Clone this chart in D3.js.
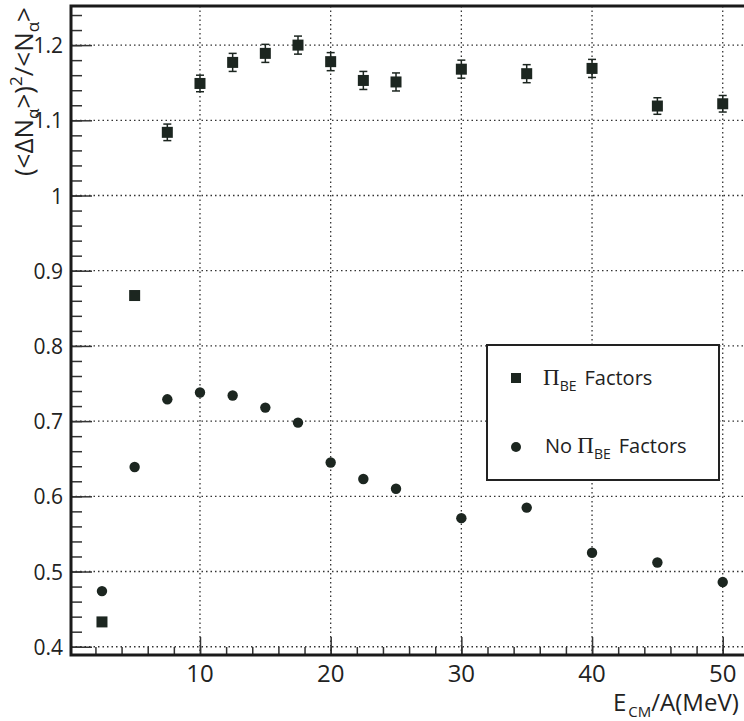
<!DOCTYPE html>
<html>
<head>
<meta charset="utf-8">
<script src="https://cdn.jsdelivr.net/npm/d3@7"></script>
<style>
  body { margin: 0; background: #fff; overflow: hidden; }
  text { font-family: "Open Sans", "DejaVu Sans", sans-serif; fill: #222; }
</style>
</head>
<body>
<div class="chart"></div>
<script>
// data
var energy = [2.5, 5, 7.5, 10, 12.5, 15, 17.5, 20, 22.5, 25, 30, 35, 40, 45, 50];
var withBE = [0.433, 0.867, 1.084, 1.149, 1.177, 1.189, 1.200, 1.178, 1.153, 1.151, 1.168, 1.162, 1.169, 1.119, 1.122];
var withBEerr = [0.003, 0.004, 0.011, 0.011, 0.012, 0.012, 0.012, 0.012, 0.012, 0.012, 0.012, 0.012, 0.012, 0.011, 0.011];
var noBE = [0.474, 0.639, 0.729, 0.738, 0.734, 0.718, 0.698, 0.645, 0.623, 0.610, 0.571, 0.585, 0.525, 0.512, 0.486];
var xTicks = [10, 20, 30, 40, 50];
var yTicks = [0.4, 0.5, 0.6, 0.7, 0.8, 0.9, 1, 1.1, 1.2];

var W = 744, H = 721;
var pLeft = 71, pTop = 6, pBottom = 655, pRight = 775;

var x = d3.scaleLinear().domain([0.13, 54]).range([pLeft, pRight]);
var y = d3.scaleLinear().domain([0.389, 1.252]).range([pBottom, pTop]);

var svg = d3.select(".chart").append("svg")
    .attr("width", W)
    .attr("height", H);

var ink = "#1c2620";

// dotted grid
svg.append("g").selectAll("line")
    .data(yTicks).enter().append("line")
    .attr("x1", pLeft).attr("x2", pRight)
    .attr("y1", function(d){ return y(d); })
    .attr("y2", function(d){ return y(d); })
    .attr("stroke", "#333").attr("stroke-width", 1.3)
    .attr("stroke-dasharray", "1.5,3");

svg.append("g").selectAll("line")
    .data(xTicks).enter().append("line")
    .attr("x1", function(d){ return x(d); })
    .attr("x2", function(d){ return x(d); })
    .attr("y1", pTop).attr("y2", pBottom)
    .attr("stroke", "#333").attr("stroke-width", 1.3)
    .attr("stroke-dasharray", "1.5,3");

// axes, ticks drawn inward
var yAxisMajor = d3.axisRight(y).tickValues(yTicks).tickSize(21).tickFormat("");
var yAxisMinor = d3.axisRight(y).tickValues(d3.range(0.40, 1.2501, 0.02)).tickSize(11).tickFormat("");
var xAxisMajor = d3.axisTop(x).tickValues(xTicks).tickSize(18).tickFormat("");
var xAxisMinor = d3.axisTop(x).tickValues(d3.range(2, 54, 2)).tickSize(8).tickFormat("");

[yAxisMinor, yAxisMajor].forEach(function(a){
  var g = svg.append("g").attr("transform", "translate(" + pLeft + ",0)").call(a);
  g.select(".domain").remove();
  g.selectAll("line").attr("stroke", "#333").attr("stroke-width", 1.5);
});
[xAxisMinor, xAxisMajor].forEach(function(a){
  var g = svg.append("g").attr("transform", "translate(0," + pBottom + ")").call(a);
  g.select(".domain").remove();
  g.selectAll("line").attr("stroke", "#333").attr("stroke-width", 1.5);
});

// frame
svg.append("rect")
    .attr("x", pLeft).attr("y", pTop)
    .attr("width", pRight - pLeft).attr("height", pBottom - pTop)
    .attr("fill", "none").attr("stroke", "#1a1a1a").attr("stroke-width", 3);

// tick labels
svg.append("g").selectAll("text")
    .data(yTicks).enter().append("text")
    .attr("x", 63)
    .attr("y", function(d){ return y(d) + 8; })
    .attr("text-anchor", "end")
    .style("font-size", "21px")
    .text(function(d){ return d3.format("")(d); });

svg.append("g").selectAll("text")
    .data(xTicks).enter().append("text")
    .attr("x", function(d){ return x(d); })
    .attr("y", 682)
    .attr("text-anchor", "middle")
    .style("font-size", "24px")
    .text(function(d){ return d; });

// x axis title
var xt = svg.append("text").attr("x", 613).attr("y", 711).style("font-size", "24px");
xt.append("tspan").text("E");
xt.append("tspan").attr("dx", 2).attr("dy", 6).style("font-size", "15px").text("CM");
xt.append("tspan").attr("dy", -6).text("/A(MeV)");

// y axis title
var yt = svg.append("text")
    .attr("transform", "translate(33,7) rotate(-90)")
    .attr("text-anchor", "end")
    .style("font-size", "26px");
yt.append("tspan").text("(<ΔN");
yt.append("tspan").attr("dy", 6).style("font-size", "17px").text("α");
yt.append("tspan").attr("dy", -6).text(">)");
yt.append("tspan").attr("dy", -11).style("font-size", "17px").text("2");
yt.append("tspan").attr("dy", 11).text("/<N");
yt.append("tspan").attr("dy", 6).style("font-size", "17px").text("α");
yt.append("tspan").attr("dy", -6).text(">");

// series with Pi_BE factors: squares with error bars
var sq = svg.append("g").selectAll("g")
    .data(energy).enter().append("g");
sq.append("line")
    .attr("x1", function(d){ return x(d); })
    .attr("x2", function(d){ return x(d); })
    .attr("y1", function(d, i){ return y(withBE[i] - withBEerr[i]); })
    .attr("y2", function(d, i){ return y(withBE[i] + withBEerr[i]); })
    .attr("stroke", ink).attr("stroke-width", 1.5);
[-1, 1].forEach(function(s){
  sq.append("line")
      .attr("x1", function(d){ return x(d) - 4; })
      .attr("x2", function(d){ return x(d) + 4; })
      .attr("y1", function(d, i){ return y(withBE[i] + s * withBEerr[i]); })
      .attr("y2", function(d, i){ return y(withBE[i] + s * withBEerr[i]); })
      .attr("stroke", ink).attr("stroke-width", 1.5);
});
sq.append("rect")
    .attr("x", function(d){ return x(d) - 5.5; })
    .attr("y", function(d, i){ return y(withBE[i]) - 5.5; })
    .attr("width", 11).attr("height", 11)
    .attr("fill", ink);

// series without Pi_BE factors: circles
svg.append("g").selectAll("circle")
    .data(energy).enter().append("circle")
    .attr("cx", function(d){ return x(d); })
    .attr("cy", function(d, i){ return y(noBE[i]); })
    .attr("r", 5.2)
    .attr("fill", ink);

// legend
var lg = svg.append("g");
lg.append("rect")
    .attr("x", 487).attr("y", 345).attr("width", 232).attr("height", 135)
    .attr("fill", "#fff").attr("stroke", "#222").attr("stroke-width", 2);
lg.append("rect").attr("x", 511).attr("y", 373).attr("width", 10).attr("height", 10).attr("fill", ink);
lg.append("circle").attr("cx", 516).attr("cy", 447).attr("r", 5).attr("fill", ink);

function piLabel(xp, yp, prefix) {
  var t = lg.append("text").attr("x", xp).attr("y", yp).style("font-size", "20px");
  if (prefix) t.append("tspan").text(prefix);
  t.append("tspan").style("font-family", "'Liberation Serif', serif").style("font-size", "23px").text("Π");
  t.append("tspan").attr("dy", 6).style("font-size", "14px").text("BE");
  t.append("tspan").attr("dy", -6).attr("dx", 8).text("Factors");
}
piLabel(543, 385, null);
piLabel(545, 453, "No ");
</script>
</body>
</html>
